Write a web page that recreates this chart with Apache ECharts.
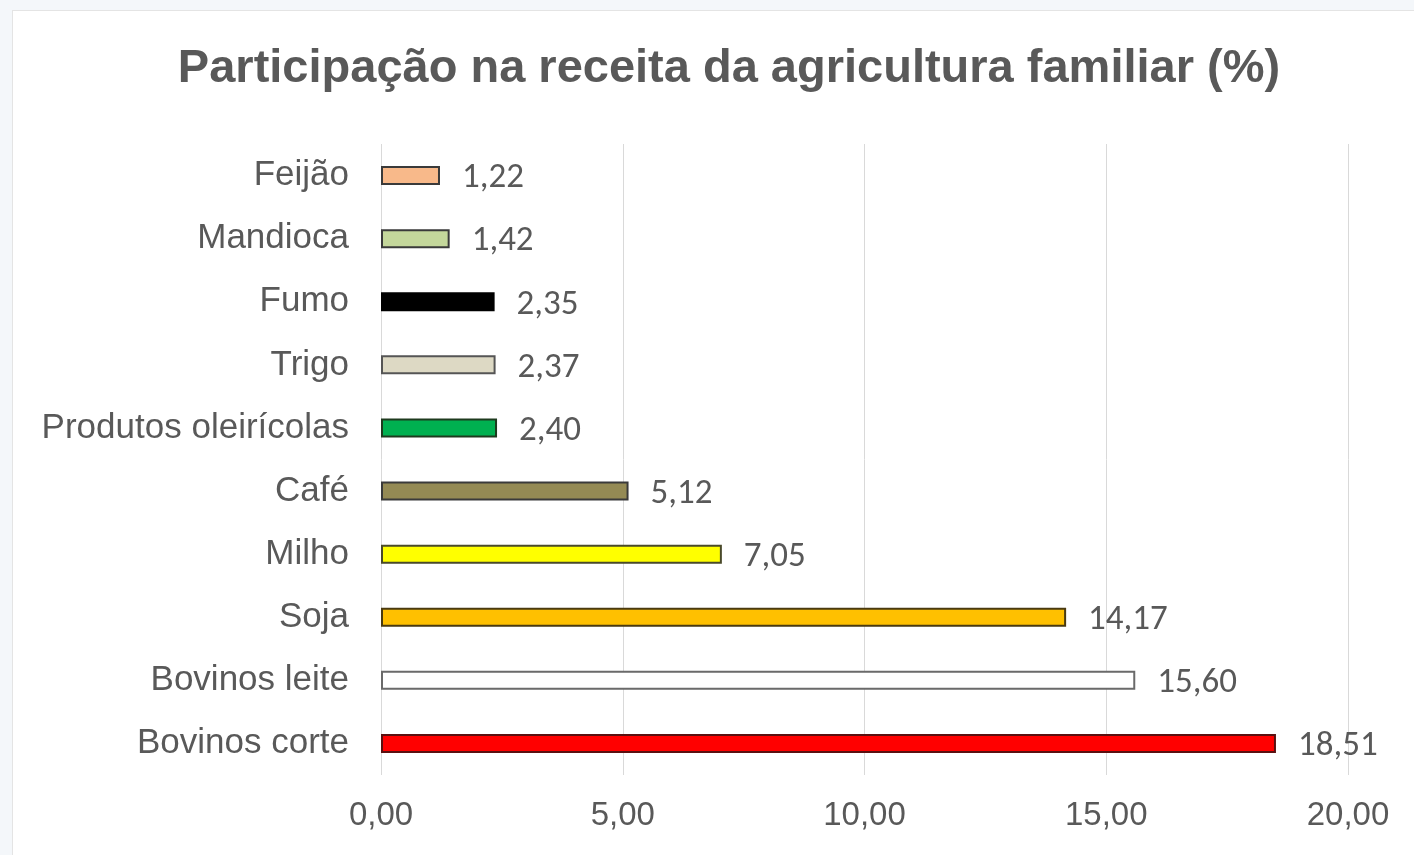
<!DOCTYPE html>
<html><head><meta charset="utf-8">
<script src="https://cdn.jsdelivr.net/npm/echarts@6/dist/echarts.min.js"></script>
<style>
html,body{margin:0;padding:0;background:#f4f7fa;}
#frame{position:absolute;left:12px;top:10px;width:1410px;height:850px;background:#fff;border:1px solid #e4e4e4;}
#c{position:absolute;left:-13px;top:-11px;width:1414px;height:855px;}
</style></head>
<body>
<div id="frame"><div id="c"></div></div>
<script>
const categories = ['Feijão','Mandioca','Fumo','Trigo','Produtos oleirícolas','Café','Milho','Soja','Bovinos leite','Bovinos corte'];
const values = [1.22, 1.42, 2.35, 2.37, 2.40, 5.12, 7.05, 14.17, 15.60, 18.51];
const barColors = ['#F8B98A','#C4D79B','#000000','#DDD9C4','#00B050','#948A54','#FFFF00','#FFC000','#FFFFFF','#FF0000'];
const borderColors = ['#3a3a3a','#3a3a3a','#000000','#555555','#1e3a1e','#3a3a3a','#4a4a2a','#4a3a10','#6a6a6a','#5a1010'];
const titleText = 'Participação na receita da agricultura familiar (%)';

const chart = echarts.init(document.getElementById('c'));
chart.setOption({
  backgroundColor: 'transparent',
  animation: false,
  title: {
    text: titleText, left: 724, textAlign: 'center', top: 41,
    textStyle: {fontFamily: 'Liberation Sans', fontSize: 47, fontWeight: 'bold', color: '#595959'}
  },
  grid: {left: 381, right: 66, top: 144, bottom: 80, containLabel: false},
  xAxis: {
    type: 'value', min: 0, max: 20, interval: 5,
    axisLine: {show: false}, axisTick: {show: false},
    splitLine: {show: true, lineStyle: {color: '#d9d9d9', width: 1}},
    axisLabel: {
      margin: 24, color: '#595959', fontFamily: 'Liberation Sans', fontSize: 33,
      formatter: v => v.toFixed(2).replace('.', ',')
    }
  },
  yAxis: {
    type: 'category', data: categories, inverse: true,
    axisLine: {show: false}, axisTick: {show: false},
    axisLabel: {margin: 32, color: '#595959', fontFamily: 'Liberation Sans', fontSize: 35}
  },
  series: [{
    type: 'bar', barWidth: 19,
    data: values.map((v, i) => ({
      value: v,
      itemStyle: {color: barColors[i], borderColor: borderColors[i], borderWidth: 2}
    })),
    label: {
      show: true, position: 'right', distance: 22, offset: [0, 3],
      color: '#595959', fontFamily: 'Carlito, Liberation Sans', fontSize: 35,
      formatter: p => p.value.toFixed(2).replace('.', ',')
    }
  }]
});
</script>
</body></html>
